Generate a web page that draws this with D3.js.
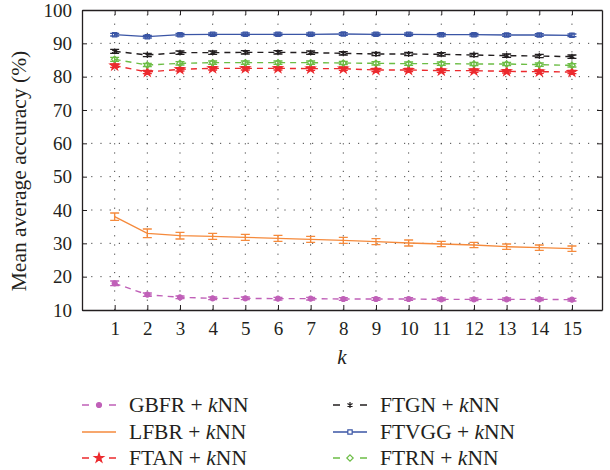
<!DOCTYPE html>
<html>
<head>
<meta charset="utf-8">
<script src="https://cdn.jsdelivr.net/npm/d3@7"></script>
<style>
  body { margin: 0; background: #fff; }
  svg { display: block; }
  text { font-family: "Liberation Serif", "DejaVu Serif", serif; fill: #231f20; }
</style>
</head>
<body>
<svg id="chart" width="610" height="470"></svg>
<script>
// k values on the x axis
const kValues = [1, 2, 3, 4, 5, 6, 7, 8, 9, 10, 11, 12, 13, 14, 15];
const yTicks = [10, 20, 30, 40, 50, 60, 70, 80, 90, 100];

// mean accuracy per method
const gbfr = [18.0, 14.6, 13.8, 13.5, 13.5, 13.4, 13.4, 13.3, 13.3, 13.3, 13.2, 13.2, 13.2, 13.2, 13.1];
const lfbr = [38.0, 33.0, 32.3, 32.1, 31.8, 31.5, 31.2, 30.9, 30.5, 30.1, 29.8, 29.5, 29.0, 28.7, 28.4];
const ftan = [83.3, 81.4, 82.2, 82.5, 82.5, 82.5, 82.4, 82.4, 82.0, 82.0, 81.8, 81.8, 81.6, 81.5, 81.4];
const ftgn = [87.6, 86.5, 87.2, 87.2, 87.3, 87.3, 87.2, 87.0, 86.8, 86.8, 86.7, 86.5, 86.3, 86.2, 86.0];
const ftvgg = [92.6, 92.0, 92.6, 92.7, 92.7, 92.7, 92.7, 92.8, 92.7, 92.7, 92.6, 92.6, 92.5, 92.5, 92.4];
const ftrn = [85.2, 83.5, 84.0, 84.2, 84.2, 84.2, 84.2, 84.1, 84.0, 83.9, 83.9, 83.8, 83.8, 83.6, 83.4];

// error bar half-widths
const gbfrErr = [0.7, 0.5, 0.4, 0.4, 0.4, 0.4, 0.4, 0.4, 0.4, 0.4, 0.4, 0.4, 0.4, 0.4, 0.4];
const lfbrErr = [1.1, 1.3, 1.0, 0.9, 0.9, 0.9, 0.9, 0.9, 0.9, 0.9, 0.8, 0.8, 0.8, 0.8, 0.8];
const ftanErr = [0.5, 0.5, 0.5, 0.5, 0.5, 0.5, 0.5, 0.5, 0.5, 0.5, 0.5, 0.5, 0.5, 0.5, 0.5];
const ftgnErr = [0.6, 0.5, 0.5, 0.5, 0.5, 0.5, 0.5, 0.5, 0.5, 0.5, 0.5, 0.5, 0.5, 0.5, 0.5];
const ftvggErr = [0.4, 0.4, 0.4, 0.4, 0.4, 0.4, 0.4, 0.4, 0.4, 0.4, 0.4, 0.4, 0.4, 0.4, 0.4];
const ftrnErr = [0.6, 0.5, 0.5, 0.5, 0.5, 0.5, 0.5, 0.5, 0.5, 0.5, 0.5, 0.5, 0.5, 0.5, 0.5];

const series = [
  { name: 'GBFR', values: gbfr, err: gbfrErr, color: '#c060b8', dash: '6,5', symbol: d3.symbolCircle, size: 20, fill: true },
  { name: 'LFBR', values: lfbr, err: lfbrErr, color: '#f58a3c', dash: null, symbol: null },
  { name: 'FTAN', values: ftan, err: ftanErr, color: '#ec2a2e', dash: '6,5', symbol: d3.symbolStar, size: 26, fill: true },
  { name: 'FTGN', values: ftgn, err: ftgnErr, color: '#231f20', dash: '6,5', symbol: d3.symbolAsterisk, size: 24, fill: false },
  { name: 'FTVGG', values: ftvgg, err: ftvggErr, color: '#3a55a5', dash: null, symbol: d3.symbolSquare2, size: 24, fill: false },
  { name: 'FTRN', values: ftrn, err: ftrnErr, color: '#6cbd45', dash: '6,5', symbol: d3.symbolDiamond2, size: 26, fill: false }
];

const svg = d3.select('#chart');
const mLeft = 82, mRight = 602, mTop = 10, mBottom = 310;

const x = d3.scaleLinear().domain([0, 15.92]).range([mLeft, mRight]);
const y = d3.scaleLinear().domain([10, 100]).range([mBottom, mTop]);

// dotted grid
const grid = svg.append('g').attr('stroke', '#444').attr('stroke-width', 1).attr('stroke-dasharray', '1.2,8');
grid.selectAll('.gx').data(kValues).enter().append('line')
  .attr('x1', d => x(d)).attr('x2', d => x(d)).attr('y1', mBottom).attr('y2', mTop);
grid.selectAll('.gy').data(yTicks.slice(1, -1)).enter().append('line')
  .attr('y1', d => y(d)).attr('y2', d => y(d)).attr('x1', mLeft).attr('x2', mRight);

// axes with inward ticks
svg.append('g').attr('transform', `translate(0,${mBottom})`)
  .call(d3.axisBottom(x).tickValues(kValues).tickSizeInner(-5).tickSizeOuter(0).tickPadding(12))
  .call(g => g.selectAll('text').style('font-size', '19px'));
svg.append('g').attr('transform', `translate(0,${mTop})`)
  .call(d3.axisTop(x).tickValues(kValues).tickSizeInner(-5).tickSizeOuter(0).tickFormat(''));
svg.append('g').attr('transform', `translate(${mLeft},0)`)
  .call(d3.axisLeft(y).tickValues(yTicks).tickSizeInner(-5).tickSizeOuter(0).tickPadding(10))
  .call(g => g.selectAll('text').style('font-size', '19px'));
svg.append('g').attr('transform', `translate(${mRight},0)`)
  .call(d3.axisRight(y).tickValues(yTicks).tickSizeInner(-5).tickSizeOuter(0).tickFormat(''));
svg.selectAll('.domain').attr('stroke', '#231f20').attr('stroke-width', 1.3);
svg.selectAll('.tick line').attr('stroke', '#231f20');

// series
const line = d3.line().x((d, i) => x(kValues[i])).y(d => y(d));
series.forEach(s => {
  const g = svg.append('g');
  g.append('path').datum(s.values)
    .attr('fill', 'none').attr('stroke', s.color).attr('stroke-width', 1.4)
    .attr('stroke-dasharray', s.dash).attr('d', line);
  // error bars
  s.values.forEach((v, i) => {
    const cx = x(kValues[i]);
    const y1 = y(v - s.err[i]), y2 = y(v + s.err[i]);
    g.append('path')
      .attr('d', `M${cx},${y1}V${y2}M${cx - 4.5},${y1}H${cx + 4.5}M${cx - 4.5},${y2}H${cx + 4.5}`)
      .attr('stroke', s.color).attr('stroke-width', 1.4).attr('fill', 'none');
  });
  if (s.symbol) {
    g.selectAll('.m').data(s.values).enter().append('path')
      .attr('transform', (d, i) => `translate(${x(kValues[i])},${y(d)})`)
      .attr('d', d3.symbol().type(s.symbol).size(s.size))
      .attr('fill', s.fill ? s.color : 'none')
      .attr('stroke', s.color).attr('stroke-width', 1.2);
  }
});

// axis titles
svg.append('text').attr('transform', 'translate(26,171) rotate(-90)')
  .attr('text-anchor', 'middle').style('font-size', '21.5px').text('Mean average accuracy (%)');
svg.append('text').attr('x', (mLeft + mRight) / 2).attr('y', 364).attr('text-anchor', 'middle')
  .style('font-size', '21px').style('font-style', 'italic').text('k');

// legend
const legendPos = [
  { col: 0, row: 0 }, { col: 0, row: 1 }, { col: 0, row: 2 },
  { col: 1, row: 0 }, { col: 1, row: 1 }, { col: 1, row: 2 }
];
const colX = [82, 333], rowY = [405, 432, 458];
series.forEach((s, i) => {
  const p = legendPos[i];
  const lx = colX[p.col], ly = rowY[p.row];
  const g = svg.append('g');
  if (s.dash) {
    g.append('path').attr('d', `M${lx},${ly}h7M${lx + 27},${ly}h7`)
      .attr('stroke', s.color).attr('stroke-width', 1.4);
  } else {
    g.append('line').attr('x1', lx).attr('x2', lx + 34).attr('y1', ly).attr('y2', ly)
      .attr('stroke', s.color).attr('stroke-width', 1.4);
  }
  if (s.symbol) {
    if (!s.dash) {
      g.select('line').attr('stroke-width', 1.4);
    }
    g.append('path').attr('transform', `translate(${lx + 17},${ly})`)
      .attr('d', d3.symbol().type(s.symbol).size(s.size))
      .attr('fill', s.fill ? s.color : '#fff').attr('stroke', s.color).attr('stroke-width', 1.2);
  }
  const t = g.append('text').attr('x', lx + 47).attr('y', ly + 7).style('font-size', '21.5px');
  t.append('tspan').text(`${s.name} + `);
  t.append('tspan').style('font-style', 'italic').text('k');
  t.append('tspan').text('NN');
});
</script>
</body>
</html>
